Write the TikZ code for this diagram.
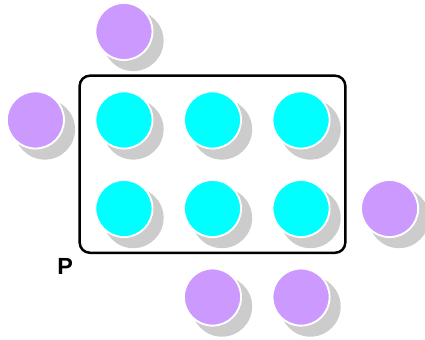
\documentclass[tikz,border=0pt]{standalone}
\usepackage{fontspec}
\setmainfont{Liberation Sans}
\usetikzlibrary{shadows}
\definecolor{bead}{RGB}{0,255,255}
\definecolor{stray}{RGB}{204,153,255}
\tikzset{
	ball/.style={
			circle, draw=white, line width=1.2pt, inner sep=0pt,
			minimum size=1.29cm, fill=#1,
			drop shadow={shadow xshift=0.2cm, shadow yshift=-0.2cm,
					shadow scale=1.06, fill=black!20, opacity=1}
		}
}

\begin{document}
\begin{tikzpicture}
	\useasboundingbox (-2.8, -4.97) rectangle (6.8, 2.71);

	\node[draw, black, rounded corners=0.23cm, line width=1.6pt,
		minimum width=6cm, minimum height=4cm, inner sep=0pt] (frame) at (2, -1) {};
	\node[font=\bfseries\fontsize{15}{17}\selectfont, inner sep=0pt] (lblP) at (-1.33, -3.32) {P};

	\foreach \i in {0,1,2}
		\foreach \j in {0,1}
			\node[ball=bead] (in-\i-\j) at (2*\i, -2*\j) {};

	\node[ball=stray] (out-top) at (0, 2) {};
	\node[ball=stray] (out-left) at (-2, 0) {};
	\node[ball=stray] (out-right) at (6, -2) {};
	\node[ball=stray] (out-bl) at (2, -4) {};
	\node[ball=stray] (out-br) at (4, -4) {};
\end{tikzpicture}
\end{document}
